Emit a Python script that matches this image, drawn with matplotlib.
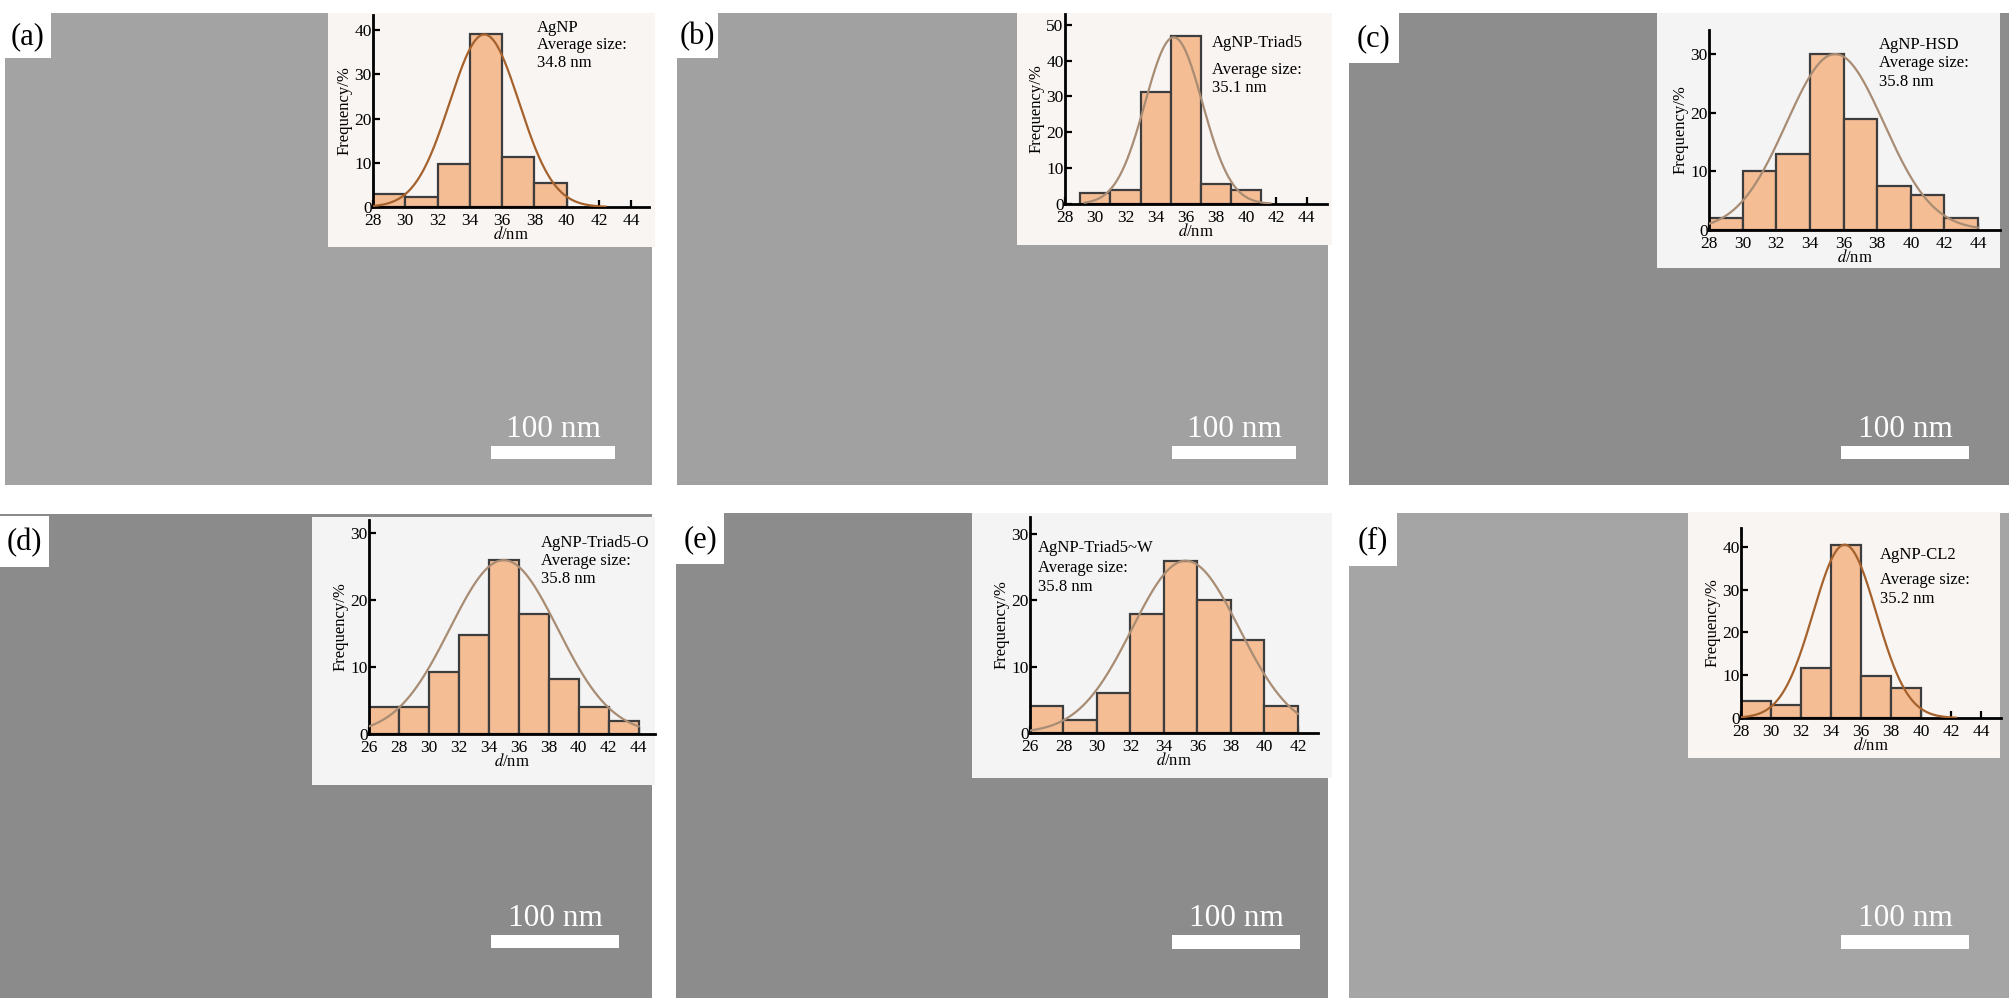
import numpy as np
import matplotlib
matplotlib.use("Agg")
import matplotlib.pyplot as plt
from matplotlib.patches import Rectangle

plt.rcParams["font.family"] = ["Liberation Serif", "DejaVu Serif"]
plt.rcParams["mathtext.fontset"] = "stix"

W, H = 2009, 1000

# ---- data ----
panel_tags = ["(a)", "(b)", "(c)", "(d)", "(e)", "(f)"]
sample_names = ["AgNP", "AgNP-Triad5", "AgNP-HSD",
                "AgNP-Triad5-O", "AgNP-Triad5~W", "AgNP-CL2"]
avg_sizes = [34.8, 35.1, 35.8, 35.8, 35.8, 35.2]

bin_start = [28, 29, 28, 26, 26, 28]
freq_a = [3.0, 2.3, 9.8, 39.0, 11.2, 5.5]
freq_b = [3.0, 4.0, 31.3, 46.8, 5.7, 4.0]
freq_c = [2.0, 10.0, 13.0, 30.0, 19.0, 7.5, 6.0, 2.0]
freq_d = [4.0, 4.0, 9.3, 14.8, 26.0, 18.0, 8.2, 4.0, 2.0]
freq_e = [4.0, 2.0, 6.0, 18.0, 26.0, 20.0, 14.0, 4.0]
freq_f = [4.0, 3.0, 11.7, 40.5, 9.8, 7.0]
freqs = [freq_a, freq_b, freq_c, freq_d, freq_e, freq_f]

# gaussian fits: centre, sigma, peak height, drawn range
fit_center = [34.9, 35.2, 35.5, 35.0, 35.3, 34.9]
fit_sigma = [2.15, 1.9, 2.9, 3.6, 3.2, 2.1]
fit_peak = [39.0, 46.5, 30.0, 26.0, 26.0, 40.5]
fit_range = [(28, 42.4), (29.3, 41.6), (28, 44), (26, 44), (26, 42), (28, 42.3)]

x_ticks = [range(28, 45, 2), range(28, 45, 2), range(28, 45, 2),
           range(26, 45, 2), range(26, 43, 2), range(28, 45, 2)]
y_ticks = [range(0, 41, 10), range(0, 51, 10), range(0, 31, 10),
           range(0, 31, 10), range(0, 31, 10), range(0, 41, 10)]

# ---- layout (figure pixels, y from top) ----
panel_px = [(5, 13, 652, 485), (677, 13, 1328, 485), (1349, 13, 2009, 485),
            (0, 514, 652, 998), (676, 513, 1328, 998), (1349, 513, 2009, 998)]
panel_grey = ["#a3a3a3", "#a1a1a1", "#8d8d8d", "#8b8b8b", "#8c8c8c", "#a5a5a5"]
inset_bg_px = [(328, 13, 655, 247), (1017, 13, 1332, 245), (1657, 13, 2000, 268),
               (312, 517, 655, 785), (972, 513, 1332, 778), (1688, 512, 2000, 758)]
inset_bg_col = ["#f9f5f3", "#f9f5f3", "#f4f4f4", "#f4f4f4", "#f4f4f4", "#f9f5f3"]
inset_ax_px = [(373, 15, 649, 207), (1065, 14, 1327, 204), (1709, 30, 2000, 230),
               (369, 520, 655, 734), (1030, 517, 1318, 733), (1741, 528, 2001, 718)]
x_lims = [(28, 45.1), (28, 45.35), (28, 45.3), (26, 45.1), (26, 43.2), (28, 45.3)]
y_tops = [43.4, 53, 34.1, 32, 32.6, 44.4]
curve_col = ["#a5622d", "#a88c74", "#a88c74", "#a88c74", "#a88c74", "#a5622d"]
label_box_px = [(5, 13, 51, 58), (677, 13, 718, 58), (1349, 13, 1399, 63),
                (0, 516, 49, 567), (676, 513, 724, 564), (1349, 513, 1397, 566)]
text_x_px = [537, 1212, 1879, 541, 1038, 1880]
text_y_px = [(28, 45, 63), (43, 70, 88), (45, 63, 82),
             (543, 561, 579), (548, 568, 587), (555, 580, 599)]
bar_px = [(491, 446, 615, 459), (1172, 446, 1296, 459), (1841, 446, 1969, 459),
          (491, 935, 619, 948), (1172, 935, 1300, 949), (1841, 935, 1969, 949)]


def frac(box):
    x0, y0, x1, y1 = box
    return [x0 / W, 1 - y1 / H, (x1 - x0) / W, (y1 - y0) / H]


fig = plt.figure(figsize=(W / 100, H / 100), dpi=100)
fig.patch.set_facecolor("white")

for i in range(6):
    # micrograph panel (plain grey stand-in) with overlays in pixel coords
    x0, y0, x1, y1 = panel_px[i]
    pax = fig.add_axes(frac(panel_px[i]), zorder=0)
    pax.set_xlim(x0, x1)
    pax.set_ylim(y1, y0)
    pax.set_facecolor(panel_grey[i])
    pax.set_xticks([])
    pax.set_yticks([])
    for s in pax.spines.values():
        s.set_visible(False)

    bx0, by0, bx1, by1 = inset_bg_px[i]
    pax.add_patch(Rectangle((bx0, by0), bx1 - bx0, by1 - by0,
                            facecolor=inset_bg_col[i], edgecolor="none",
                            clip_on=False))
    lx0, ly0, lx1, ly1 = label_box_px[i]
    pax.add_patch(Rectangle((lx0, ly0), lx1 - lx0, ly1 - ly0,
                            facecolor="white", edgecolor="none", clip_on=False))
    pax.text((lx0 + lx1) / 2, (ly0 + ly1) / 2 + 1, panel_tags[i],
             fontsize=22, ha="center", va="center")

    sx0, sy0, sx1, sy1 = bar_px[i]
    pax.add_patch(Rectangle((sx0, sy0), sx1 - sx0, sy1 - sy0,
                            facecolor="white", edgecolor="none"))
    pax.text((sx0 + sx1) / 2, sy0 - 2, "100 nm", color="white",
             fontsize=22.5, ha="center", va="bottom")

    tx = text_x_px[i]
    ty1, ty2, ty3 = text_y_px[i]
    pax.text(tx, ty1, sample_names[i], fontsize=12, va="center", clip_on=False)
    pax.text(tx, ty2, "Average size:", fontsize=12, va="center", clip_on=False)
    pax.text(tx, ty3, f"{avg_sizes[i]} nm", fontsize=12, va="center", clip_on=False)

    # size-distribution inset
    ax = fig.add_axes(frac(inset_ax_px[i]), zorder=1)
    ax.set_facecolor("none")
    edges = [bin_start[i] + 2 * k for k in range(len(freqs[i]))]
    ax.bar(edges, freqs[i], width=2, align="edge", color="#f5bd94",
           edgecolor="#3d3d3d", linewidth=1.6, zorder=2)
    lo, hi = fit_range[i]
    xs = np.linspace(lo, hi, 300)
    ys = fit_peak[i] * np.exp(-(xs - fit_center[i]) ** 2 / (2 * fit_sigma[i] ** 2))
    ax.plot(xs, ys, color=curve_col[i], linewidth=1.6, zorder=3)

    ax.set_xlim(*x_lims[i])
    ax.set_ylim(0, y_tops[i])
    ax.set_xticks(list(x_ticks[i]))
    ax.set_yticks(list(y_ticks[i]))
    ax.spines["top"].set_visible(False)
    ax.spines["right"].set_visible(False)
    ax.spines["left"].set_linewidth(2)
    ax.spines["bottom"].set_linewidth(2)
    ax.tick_params(direction="in", length=5, width=1.6, labelsize=12.5)
    ax.tick_params(axis="x", pad=4.5)
    ax.tick_params(axis="y", pad=1)
    for t in ax.get_xticklabels() + ax.get_yticklabels():
        t.set_zorder(5)
    ax.set_xlabel(r"$d$/nm", fontsize=12, labelpad=-2.5)
    ax.set_ylabel("Frequency/%", fontsize=12, labelpad=1)

fig.savefig("out.png", dpi=100, facecolor="white")
